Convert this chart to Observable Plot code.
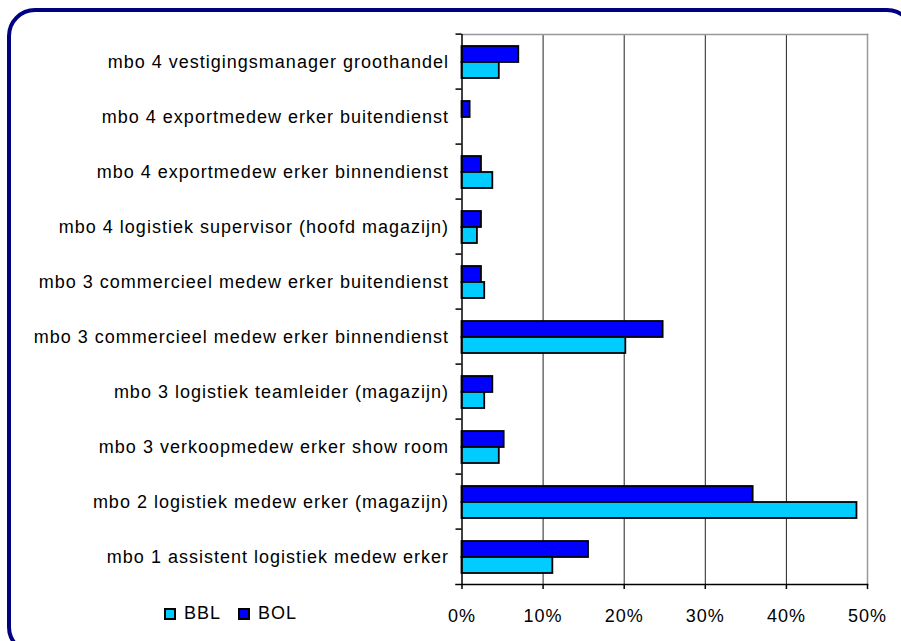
<!DOCTYPE html>
<html>
<head>
<meta charset="utf-8">
<script src="https://cdn.jsdelivr.net/npm/d3@7"></script>
<script src="https://cdn.jsdelivr.net/npm/@observablehq/plot@0.6"></script>
<style>
  html, body { margin: 0; padding: 0; overflow: hidden; background: #fff; width: 901px; height: 641px; }
  #box { position: absolute; left: 7px; top: 8px; width: 908px; height: 647px; box-sizing: border-box;
         border: 4px solid #000080; border-radius: 28px; }
  #chart { position: absolute; left: 0; top: 0; }
  #chart svg text { letter-spacing: 1px; }
  #legend { position: absolute; left: 165px; top: 597px; letter-spacing: 1px; }
  #legend svg rect { stroke: #000; stroke-width: 2px; }
</style>
</head>
<body>
<div id="box"></div>
<div id="chart"></div>
<div id="legend"></div>
<script>
// Categories, top to bottom as shown
const categories = [
  "mbo 4 vestigingsmanager groothandel",
  "mbo 4 exportmedew erker buitendienst",
  "mbo 4 exportmedew erker binnendienst",
  "mbo 4 logistiek supervisor (hoofd magazijn)",
  "mbo 3 commercieel medew erker buitendienst",
  "mbo 3 commercieel medew erker binnendienst",
  "mbo 3 logistiek teamleider (magazijn)",
  "mbo 3 verkoopmedew erker show room",
  "mbo 2 logistiek medew erker (magazijn)",
  "mbo 1 assistent logistiek medew erker"
];
// Percentages per category
const bolValues = [7.0, 1.0, 2.4, 2.4, 2.4, 24.8, 3.8, 5.2, 35.9, 15.6];
const bblValues = [4.6, 0.0, 3.8, 1.9, 2.8, 20.2, 2.8, 4.6, 48.7, 11.2];
const seriesNames = ["BOL", "BBL"];         // order within each group (top to bottom)
const legendOrder = ["BBL", "BOL"];
const seriesColors = ["#00CCFF", "#0000FF"]; // BBL, BOL
const xTicks = [0, 10, 20, 30, 40, 50];

const rows = categories.flatMap((c, i) => [
  {category: c, series: "BOL", value: bolValues[i]},
  {category: c, series: "BBL", value: bblValues[i]}
]);

const W = 901, H = 641;
const mTop = 30, mBottom = 53, mLeft = 461.5, mRight = 34;
const facetStep = (H - mTop - mBottom) / categories.length;
const font = "'Liberation Sans', Arial, sans-serif";

const chart = Plot.plot({
  width: W,
  height: H,
  marginTop: mTop,
  marginBottom: mBottom,
  marginLeft: mLeft,
  marginRight: mRight,
  style: {fontFamily: font, fontSize: "18px", color: "#000", background: "transparent", overflow: "visible"},
  x: {domain: [0, 50], label: null},
  y: {domain: seriesNames, axis: null, paddingInner: 0, paddingOuter: 0.64, align: 0.5},
  fy: {domain: categories, padding: 0, label: null, axis: null},
  color: {domain: legendOrder, range: seriesColors},
  marks: [
    Plot.gridX(xTicks.slice(1, -1), {stroke: "#222", strokeOpacity: 1, strokeWidth: 1}),
    Plot.frame({anchor: "top", stroke: "#999", strokeWidth: 1.5, facet: "super"}),
    Plot.frame({anchor: "right", stroke: "#999", strokeWidth: 1.5, facet: "super"}),
    Plot.barX(rows, {fy: "category", y: "series", x: "value", fill: "series", stroke: "#000", strokeWidth: 1.8}),
    Plot.ruleX([0], {stroke: "#000", strokeWidth: 1.5}),
    Plot.frame({anchor: "bottom", stroke: "#000", strokeWidth: 1.5, insetLeft: -6, facet: "super"}),
    Plot.axisX({ticks: xTicks, tickFormat: d => d + "%", tickSize: 5, tickPadding: 20, label: null, fontSize: 18, stroke: "#000", strokeWidth: 1.5}),
    Plot.axisFy({anchor: "left", tickSize: 0, tickPadding: 13, label: null, fontSize: 18}),
    Plot.axisFy({anchor: "left", tickSize: 6, text: null, label: null, dy: -facetStep / 2, strokeWidth: 1.5})
  ]
});
document.getElementById("chart").appendChild(chart);

const legend = Plot.legend({
  color: {domain: legendOrder, range: seriesColors},
  legend: "swatches",
  swatchSize: 10,
  style: {fontFamily: font, fontSize: "18px", color: "#000"}
});
document.getElementById("legend").appendChild(legend);
</script>
</body>
</html>
